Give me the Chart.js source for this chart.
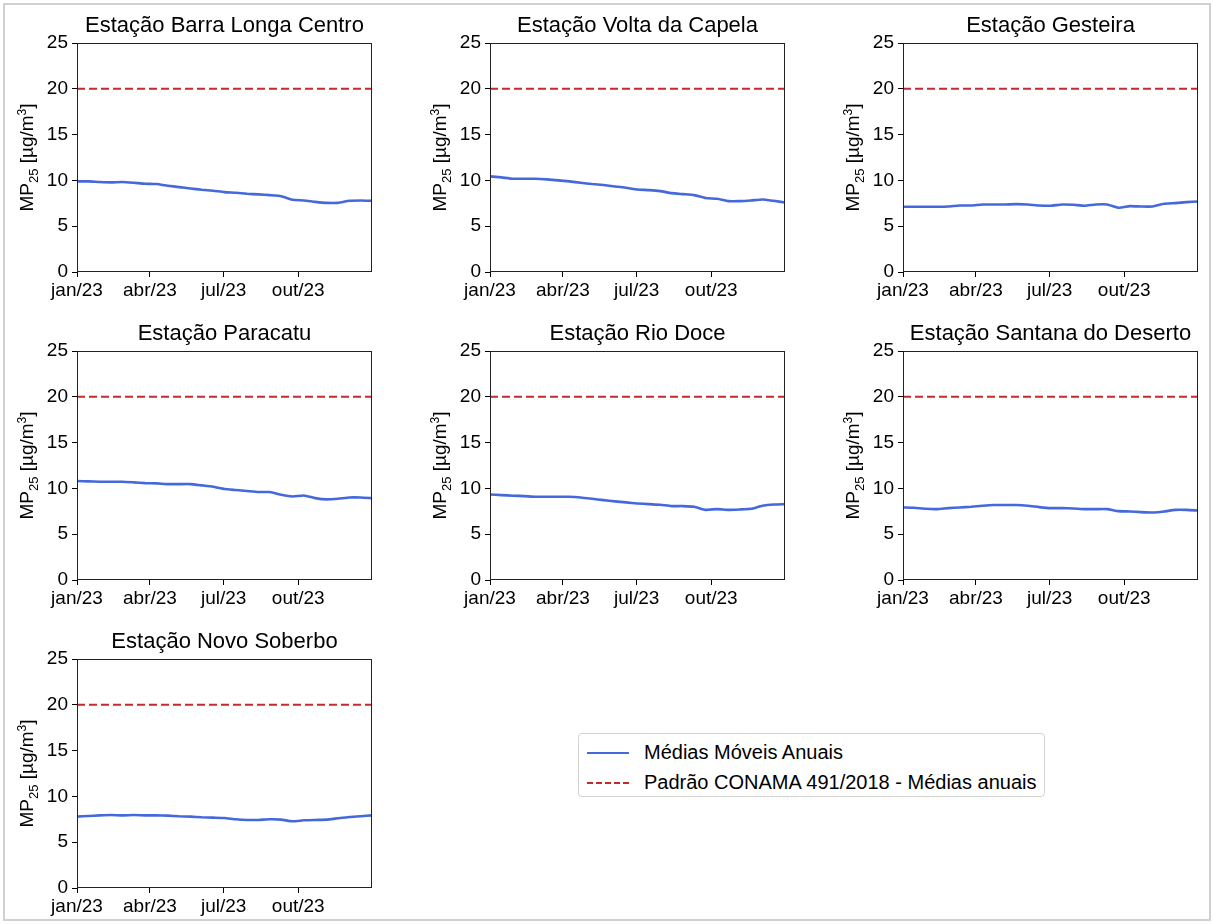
<!DOCTYPE html>
<html>
<head>
<meta charset="utf-8">
<script src="https://cdn.jsdelivr.net/npm/chart.js@4.4.0/dist/chart.umd.min.js"></script>
<style>
html,body{margin:0;background:#fff;font-family:"Liberation Sans",Arial,sans-serif;overflow:hidden;width:1214px;height:924px;}
#frame{position:absolute;left:3px;top:3px;width:1204px;height:914px;border:2px solid #d0d0d0;}
.cv{position:absolute;}
#leg{position:absolute;left:578px;top:733px;width:465px;height:62px;border:1px solid #d4d4d4;border-radius:4px;background:#fff;}
.row{position:absolute;left:0;height:24px;font-size:20px;line-height:24px;color:#000;}
.sw{position:absolute;left:8px;width:42px;top:12px;}
.tx{position:absolute;left:65px;top:0;white-space:nowrap;}
</style>
</head>
<body>
<div id="frame"></div>
<script>
// dias desde 01/jan/2023
var days = [0,14,28,42,56,70,84,98,112,126,140,154,168,182,196,210,224,238,252,266,280,294,308,322,336,350,364];

var barraLonga = [9.89,9.89,9.82,9.78,9.82,9.74,9.64,9.60,9.42,9.27,9.12,8.98,8.87,8.72,8.65,8.54,8.47,8.39,8.28,7.88,7.81,7.66,7.55,7.55,7.77,7.81,7.77];
var voltaCapela = [10.44,10.33,10.18,10.18,10.18,10.11,10.00,9.89,9.74,9.60,9.49,9.34,9.20,9.01,8.94,8.83,8.61,8.50,8.39,8.07,7.99,7.74,7.74,7.81,7.92,7.77,7.59];
var gesteira = [7.12,7.12,7.12,7.12,7.15,7.26,7.26,7.37,7.37,7.37,7.41,7.37,7.26,7.23,7.37,7.34,7.23,7.37,7.37,7.01,7.19,7.15,7.15,7.45,7.52,7.63,7.70];
var paracatu = [10.80,10.77,10.73,10.73,10.73,10.66,10.58,10.55,10.47,10.47,10.47,10.33,10.18,9.93,9.82,9.71,9.60,9.60,9.31,9.12,9.23,8.94,8.80,8.87,9.01,9.01,8.94];
var rioDoce = [9.34,9.27,9.20,9.16,9.09,9.09,9.09,9.09,9.01,8.87,8.72,8.58,8.47,8.36,8.28,8.21,8.07,8.07,7.99,7.66,7.74,7.66,7.70,7.77,8.10,8.25,8.28];
var santana = [7.92,7.88,7.77,7.74,7.85,7.92,7.99,8.10,8.18,8.18,8.18,8.10,7.96,7.85,7.85,7.81,7.74,7.74,7.74,7.52,7.48,7.41,7.37,7.48,7.66,7.66,7.59];
var novoSoberbo = [7.79,7.86,7.93,7.97,7.93,7.97,7.93,7.93,7.90,7.83,7.79,7.72,7.68,7.64,7.50,7.43,7.43,7.50,7.46,7.28,7.39,7.43,7.46,7.61,7.75,7.83,7.93];

var stations = ['Estação Barra Longa Centro','Estação Volta da Capela','Estação Gesteira','Estação Paracatu','Estação Rio Doce','Estação Santana do Deserto','Estação Novo Soberbo'];
var series = [barraLonga, voltaCapela, gesteira, paracatu, rioDoce, santana, novoSoberbo];

var monthTicks = [0,90,181,273];
var monthLabels = ['jan/23','abr/23','jul/23','out/23'];
var conama = 20;

var colLeft = [77,490,903];
var rowTop = [43,351,659];
var plotW = 295, plotH = 229;
var padL = 72, padT = 42, padB = 36, padR = 12;
var FONT = '"Liberation Sans", Arial, sans-serif';

var boxPlugin = {
  id: 'box',
  afterDraw: function(c) {
    var a = c.chartArea, x = c.ctx;
    x.save();
    x.strokeStyle = '#222';
    x.lineWidth = 1;
    x.strokeRect(a.left + 0.5, a.top + 0.5, a.right - a.left - 1, a.bottom - a.top - 1);
    x.restore();
  }
};

// y label with real subscript / superscript
var ylabPlugin = {
  id: 'ylab',
  afterDraw: function(c) {
    var a = c.chartArea, x = c.ctx;
    var parts = [
      {t: 'MP', s: 19, dy: 0},
      {t: '25', s: 13, dy: 5},
      {t: ' [µg/m', s: 19, dy: 0},
      {t: '3', s: 12, dy: -7},
      {t: ']', s: 19, dy: 0}
    ];
    x.save();
    var tot = 0;
    parts.forEach(function(p) { x.font = p.s + 'px ' + FONT; p.w = x.measureText(p.t).width; tot += p.w; });
    x.translate(a.left - 44, (a.top + a.bottom) / 2);
    x.rotate(-Math.PI / 2);
    x.fillStyle = '#000';
    x.textBaseline = 'alphabetic';
    var cx = -tot / 2;
    parts.forEach(function(p) { x.font = p.s + 'px ' + FONT; x.fillText(p.t, cx, p.dy); cx += p.w; });
    x.restore();
  }
};

for (var i = 0; i < stations.length; i++) {
  var cv = document.createElement('canvas');
  cv.className = 'cv';
  var W = padL + plotW + padR, H = padT + plotH + padB;
  cv.width = W; cv.height = H;
  cv.style.left = (colLeft[i % 3] - padL) + 'px';
  cv.style.top = (rowTop[Math.floor(i / 3)] - padT) + 'px';
  cv.style.width = W + 'px'; cv.style.height = H + 'px';
  document.body.appendChild(cv);

  var vals = series[i];
  var pts = days.map(function(d, k) { return {x: d, y: vals[k]}; });
  var lim = [{x: days[0], y: conama}, {x: days[days.length - 1], y: conama}];

  new Chart(cv.getContext('2d'), {
    type: 'line',
    data: {
      datasets: [
        {label: 'Médias Móveis Anuais', data: pts, borderColor: '#4569dc', borderWidth: 2.6, pointRadius: 0, tension: 0.15, fill: false},
        {label: 'Padrão CONAMA 491/2018 - Médias anuais', data: lim, borderColor: '#c42a2e', borderWidth: 2, borderDash: [8, 4], pointRadius: 0, fill: false}
      ]
    },
    options: {
      responsive: false,
      animation: false,
      devicePixelRatio: 1,
      layout: {padding: {left: 0, top: 0, right: padR, bottom: 0}},
      plugins: {
        legend: {display: false},
        tooltip: {enabled: false},
        title: {display: true, fullSize: false, text: stations[i], color: '#000', font: {family: FONT, size: 22, weight: 'normal'}, padding: {top: 12, bottom: 3.6}}
      },
      scales: {
        x: {
          type: 'linear', min: 0, max: 364,
          afterBuildTicks: function(s) { s.ticks = monthTicks.map(function(v) { return {value: v}; }); },
          afterFit: function(s) { s.height = padB; },
          grid: {drawOnChartArea: false, drawTicks: true, tickLength: 5, color: '#000'},
          border: {display: false},
          ticks: {
            autoSkip: false, maxRotation: 0, padding: 2, color: '#000',
            font: {family: FONT, size: 19},
            callback: function(v) { return monthLabels[monthTicks.indexOf(v)]; }
          }
        },
        y: {
          min: 0, max: 25,
          afterFit: function(s) { s.width = padL; },
          grid: {drawOnChartArea: false, drawTicks: true, tickLength: 5, color: '#000'},
          border: {display: false},
          ticks: {stepSize: 5, padding: 4, color: '#000', font: {family: FONT, size: 19}}
        }
      }
    },
    plugins: [boxPlugin, ylabPlugin]
  });
}
</script>
<div id="leg">
  <div class="row" style="top:6px"><div class="sw" style="border-top:2px solid #4569dc"></div><div class="tx">Médias Móveis Anuais</div></div>
  <div class="row" style="top:36px"><div class="sw" style="border-top:2px dashed #c42a2e"></div><div class="tx">Padrão CONAMA 491/2018 - Médias anuais</div></div>
</div>
</body>
</html>
